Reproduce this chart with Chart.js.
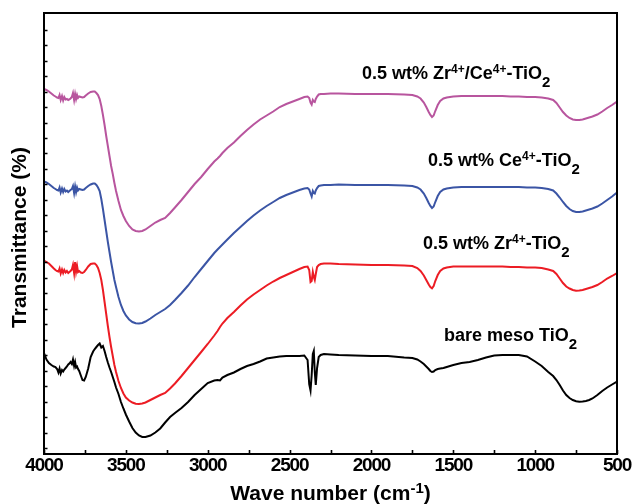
<!DOCTYPE html>
<html>
<head>
<meta charset="utf-8">
<script src="https://cdn.jsdelivr.net/npm/chart.js@4/dist/chart.umd.min.js"></script>
<style>
html,body{margin:0;padding:0;background:#fff;}
canvas{display:block;}
</style>
</head>
<body>
<canvas id="c" width="633" height="504"></canvas>
<script>
// ---------------- DATA ----------------
const wavenumbers = [4000,3985,3970,3955,3940,3930,3920,3912,3905,3898,3890,3883,3876,3868,3860,3852,3845,3838,3830,3823,3816,3810,3804,3798,3792,3785,3775,3765,3755,3745,3730,3715,3700,3690,3680,3670,3660,3650,3640,3630,3620,3610,3600,3590,3580,3570,3560,3545,3530,3515,3500,3480,3460,3440,3420,3400,3380,3350,3320,3290,3260,3230,3200,3160,3120,3080,3040,3000,2960,2940,2925,2910,2880,2840,2800,2760,2720,2680,2640,2600,2560,2520,2480,2440,2410,2390,2380,2372,2365,2358,2352,2346,2340,2332,2322,2310,2290,2250,2200,2100,2000,1900,1800,1750,1720,1700,1680,1665,1650,1640,1630,1620,1610,1595,1580,1560,1540,1500,1450,1400,1350,1300,1250,1200,1150,1100,1050,1000,960,920,890,870,850,830,810,790,770,750,730,710,690,670,650,620,590,560,530,500];

// Transmittance (a.u., curves offset as in the figure)
const zrCeTiO2 = [365,364,362.5,360.5,358.5,357.5,356.5,356,359,354,358,353.5,357,354.5,355,354,354.5,355.5,357,361,354,360,355,359,356,357.5,357,356.5,357,358.5,360.5,362,362.5,362.5,361,359,355,348,339,329,318,308,298,288,280,271,263,253,244,238,233,228,224.5,223,222.5,223,224.5,228,231.5,234,236,241,246.5,254,262,270,277,285,292.5,295.5,298,301,306,311.5,318,324,329.5,334.5,338.5,342.5,347,350,352.5,355,357,357.5,356,351.5,349.5,354,352.5,352,355,357.5,359.5,360,360,360.5,360.5,360,360,360,359.5,359,357.5,355.5,351.5,347,342,339,337,338.5,343,349,353,355.5,356.5,357.5,358,358,358,358,358,358,357.5,357.5,357,357,356.5,355.5,354,351,346.5,342,338.5,336,334.5,334,334,334.5,335.5,336.5,337.5,339.5,342.5,346,349,352.5];

const ceTiO2 = [272.5,271.5,270,268,266,265,264,263.5,266.5,261.5,265.5,262,265,262.5,263.5,262,263,264,265,268,261,267.5,262,266.5,263.5,265,264.5,264,264.5,266,268,269.5,270.5,270.5,269,266.5,263,255,245,234,223,212,202,192,183,174,167,157,149,143,138.5,134.5,132,130.7,130.5,131,132.5,135.5,139,142,145,149,154,161,168.5,177,185,193,201,204.5,207,209.5,214.5,221,227,233,238.5,243.5,248,252,256,259,261.5,264,265.5,266,264.5,260.5,257.5,263,261,260.5,263.5,266,268,268.5,269,269,269.5,269,269,269,268.5,268,266.5,264.5,260.5,256,251,248,246,247.5,252,258,262,264.5,265.5,266.5,267,267,267,267,267,267,267,267,266.5,266.5,266,265,263.5,260.5,256.5,252,248,245,243,242,242,242.5,243.5,244.5,245.5,247.5,250.5,254,257.5,261.5];

const zrTiO2 = [193.5,192,190.5,188,185.5,184,183,182.5,185.5,180.5,184.5,181,184,181.5,183,181,182,183,184.5,189,181,192,182.5,188,182,183,181.5,181,182,184,187.5,190,190.5,190.5,189,186,181,174,164,152,140,128,117,107,98,89,82,73,66,60.5,56.5,53.5,51.5,50.2,50,50.5,51.5,54,56.5,59,61,65.5,70.5,78,86,94,102,110,118.5,123,127,130.5,136,142,148.5,154.5,159.5,164,168.5,172.5,176,179,182,185,187,187.5,184,172,173,182,177,174,180,187,189,190,190.5,190.5,190,189.5,189,189,188.5,188,186,183,178.5,174,169.5,167,165.7,168,173,179,183,185.5,186.5,187.5,187.5,187.5,187.5,187.5,187.5,187.5,187,187,186.5,186.5,186,184.5,183,180,175.5,171,167.5,165.5,164,163.3,163.5,164,165,166,167,169,172,175.5,178,181];

const bareMesoTiO2 = [101,94.5,91,89,87.5,87,85,81.5,85.5,80.5,84,82.5,84.5,86,87.5,89.5,90.5,92,90,94.5,88,92,86.5,87.5,85,83,78.5,74,73.5,77,85.5,97,102.5,105,107,109,110.5,106.5,108,103,97,91.5,86.5,82,77,72,66.5,60,52,45.5,39.5,32.5,26,21.5,18.5,17,17,18.5,21.5,25.5,31.5,37,41,46,52,59,65,71,73.5,74,73.5,76.5,79,81.5,85,88,90,92.5,95.5,96.5,97.5,98,98,98,98.5,94,70,63.5,79,100,103,82,69,86,97,99,100,99.5,99,98.5,98,98,96.5,96,94.5,92.5,90,87.5,85,83,82,82.5,84,85,85.5,86,87,89,91,92,94,96.5,98.5,99,99,99,97.5,92.5,88,82,78,74,69,63.5,59,56,54,52.7,52.3,52.5,53,54,55.5,59,63,66.5,69.5,72.5];

const xTickLabels = [4000,3500,3000,2500,2000,1500,1000,500];
const xMinorTicks = [3750,3250,2750,2250,1750,1250,750];
const yTickValues = [6,21.5,37,52.5,68,83.5,99,114.5,130,145.5,161,176.5,192,207.5,223,238.5,254,269.5,285,300.5,316,331.5,347,362.5,378,393.5,409,424.5];

const seriesNames = ['0.5 wt% Zr4+/Ce4+-TiO2','0.5 wt% Ce4+-TiO2','0.5 wt% Zr4+-TiO2','bare meso TiO2'];
// rich-text pieces of the curve labels: n = normal, sup, sub
const seriesLabelParts = [
  [['0.5 wt% Zr','n'],['4+','sup'],['/Ce','n'],['4+','sup'],['-TiO','n'],['2','sub']],
  [['0.5 wt% Ce','n'],['4+','sup'],['-TiO','n'],['2','sub']],
  [['0.5 wt% Zr','n'],['4+','sup'],['-TiO','n'],['2','sub']],
  [['bare meso TiO','n'],['2','sub']]
];
const xTitle = [['Wave number (cm','n'],['-1','sup'],[')','n']];
const yTitle = 'Transmittance (%)';

// ---------------- STYLE / LAYOUT ----------------
const FONT = '"Liberation Sans", Arial, Helvetica, sans-serif';
const colors = ['#B8559E', '#3B55A5', '#EC1C24', '#000000'];
const labelAnchors = [[362,79],[428,166],[423,249],[444,341]];

function pts(arr){ return wavenumbers.map((w,i)=>({x:w, y:arr[i]})); }

function drawRich(ctx, parts, x, y, size, supSize, subSize, align){
  const fontFor = s => `bold ${s==='sup'?supSize:(s==='sub'?subSize:size)}px ${FONT}`;
  let total = 0;
  for (const [t,s] of parts){ ctx.font = fontFor(s); total += ctx.measureText(t).width; }
  let cx = align === 'center' ? x - total/2 : x;
  ctx.textAlign = 'left';
  ctx.textBaseline = 'alphabetic';
  for (const [t,s] of parts){
    ctx.font = fontFor(s);
    const dy = s==='sup' ? -size*0.33 : (s==='sub' ? size*0.43 : 0);
    ctx.fillText(t, cx, y + dy);
    cx += ctx.measureText(t).width;
  }
}

const decor = {
  id: 'decor',
  beforeDraw(chart){ chart.ctx.letterSpacing = '-1.2px'; },
  afterDraw(chart){
    const {ctx, chartArea:a} = chart;
    const x = chart.scales.x, y = chart.scales.y;
    ctx.save();
    ctx.letterSpacing = '0px';
    ctx.strokeStyle = '#000';
    ctx.lineWidth = 2;
    ctx.strokeRect(a.left, a.top, a.right - a.left, a.bottom - a.top);
    ctx.lineWidth = 1.6;
    ctx.beginPath();
    for (const t of y.ticks){
      const py = Math.round(y.getPixelForValue(t.value)) + 0.5;
      ctx.moveTo(a.left, py); ctx.lineTo(a.left + 3.5, py);
    }
    for (const v of xTickLabels.concat(xMinorTicks)){
      const px = Math.round(x.getPixelForValue(v)) + 0.5;
      ctx.moveTo(px, a.bottom); ctx.lineTo(px, a.bottom - 4);
    }
    ctx.stroke();

    ctx.fillStyle = '#000';
    // curve labels
    seriesLabelParts.forEach((p,i)=>{
      drawRich(ctx, p, labelAnchors[i][0], labelAnchors[i][1], 18, 12, 15, 'left');
    });
    // x title
    drawRich(ctx, xTitle, (a.left + a.right)/2, 500, 21, 15, 15, 'center');
    // y title
    ctx.save();
    ctx.translate(26, (a.top + a.bottom)/2 + 4);
    ctx.rotate(-Math.PI/2);
    ctx.font = `bold 21px ${FONT}`;
    ctx.textAlign = 'center';
    ctx.textBaseline = 'alphabetic';
    ctx.fillText(yTitle, 0, 0);
    ctx.restore();
    ctx.restore();
  }
};

new Chart(document.getElementById('c'), {
  type: 'line',
  data: {
    datasets: [zrCeTiO2, ceTiO2, zrTiO2, bareMesoTiO2].map((arr,i)=>({
      label: seriesNames[i],
      data: pts(arr),
      borderColor: colors[i],
      backgroundColor: colors[i],
      borderWidth: 2,
      pointRadius: 0,
      tension: 0,
      fill: false
    }))
  },
  options: {
    responsive: false,
    devicePixelRatio: 1,
    animation: false,
    layout: { padding: { top: 13, right: 16, left: 0, bottom: 0 } },
    plugins: { legend: { display: false }, tooltip: { enabled: false } },
    scales: {
      x: {
        type: 'linear',
        reverse: true,
        min: 500, max: 4000,
        afterBuildTicks(scale){ scale.ticks = xTickLabels.map(v=>({value:v})); },
        ticks: { autoSkip: false, maxRotation: 0, padding: 0, color: '#000',
                 font: { family: FONT, size: 19, weight: 'bold' },
                 callback: v => String(v) },
        grid: { display: false, drawTicks: false },
        border: { display: false },
        afterFit(scale){ scale.height = 50; }
      },
      y: {
        type: 'linear',
        min: 0, max: 441,
        afterBuildTicks(scale){ scale.ticks = yTickValues.map(v=>({value:v})); },
        ticks: { display: false },
        grid: { display: false, drawTicks: false },
        border: { display: false },
        afterFit(scale){ scale.width = 44; }
      }
    }
  },
  plugins: [decor]
});
</script>
</body>
</html>
